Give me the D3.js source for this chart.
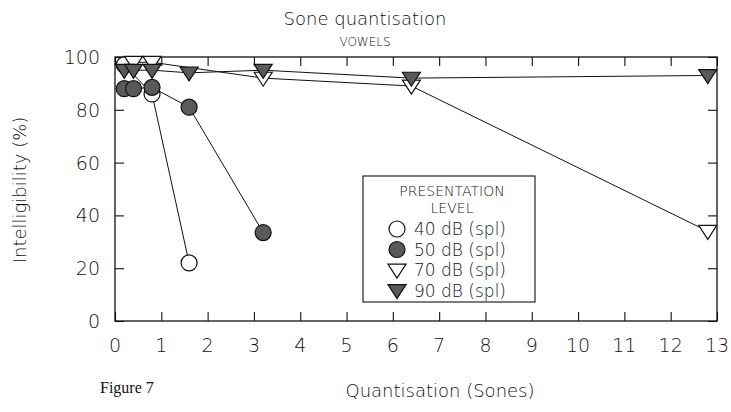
<!DOCTYPE html>
<html>
<head>
    <title>Sone quantisation</title>
    <script src="https://d3js.org/d3.v7.min.js"></script>
    <style>
        body { margin: 0; background: #fff; }
        text { font-family: "DejaVu Sans", sans-serif; font-weight: 200; fill: #111; }
    </style>
</head>
<body>
    <svg id="chart"></svg>
    <script>
        // Chart data
        const xTicks = [0, 1, 2, 3, 4, 5, 6, 7, 8, 9, 10, 11, 12, 13];
        const yTicks = [0, 20, 40, 60, 80, 100];

        const x40 = [0.2, 0.8, 1.6];
        const y40 = [97, 86, 22];
        const x50 = [0.2, 0.4, 0.8, 1.6, 3.2];
        const y50 = [88, 88, 88.5, 81, 33.5];
        const x70 = [0.4, 0.8, 3.2, 6.4, 12.8];
        const y70 = [98, 98, 92, 89, 34];
        const x90 = [0.2, 0.4, 0.8, 1.6, 3.2, 6.4, 12.8];
        const y90 = [95, 95, 95, 94, 95, 92, 93];

        const legendTitle = ["PRESENTATION", "LEVEL"];
        const legendLabels = ["40 dB (spl)", "50 dB (spl)", "70 dB (spl)", "90 dB (spl)"];

        let width = 731, height = 412;
        const margin = {left: 115, right: 14, top: 57, bottom: 91};

        const svg = d3.select("#chart")
            .attr("width", width)
            .attr("height", height);

        const x = d3.scaleLinear().domain([0, 13]).range([margin.left, width - margin.right]);
        const y = d3.scaleLinear().domain([0, 100]).range([height - margin.bottom, margin.top]);

        const gray = "#5a5a5a";
        const series = [
            {xs: x40, ys: y40, shape: "circle", fill: "#fff"},
            {xs: x70, ys: y70, shape: "tri", fill: "#fff"},
            {xs: x90, ys: y90, shape: "tri", fill: gray},
            {xs: x50, ys: y50, shape: "circle", fill: gray}
        ];

        // frame
        svg.append("rect")
            .attr("x", x(0)).attr("y", y(100))
            .attr("width", x(13) - x(0)).attr("height", y(0) - y(100))
            .attr("fill", "none").attr("stroke", "#111").attr("stroke-width", 1.3);

        // inward ticks on all four sides
        const tl = 9;
        const axisB = d3.axisBottom(x).tickValues(xTicks).tickSize(-tl).tickFormat("");
        const axisT = d3.axisTop(x).tickValues(xTicks).tickSize(-tl).tickFormat("");
        const axisL = d3.axisLeft(y).tickValues(yTicks).tickSize(-tl).tickFormat("");
        const axisR = d3.axisRight(y).tickValues(yTicks).tickSize(-tl).tickFormat("");
        [[axisB, `translate(0,${y(0)})`], [axisT, `translate(0,${y(100)})`],
         [axisL, `translate(${x(0)},0)`], [axisR, `translate(${x(13)},0)`]].forEach(([a, t]) => {
            const g = svg.append("g").attr("transform", t).call(a);
            g.select(".domain").remove();
            g.selectAll("line").attr("stroke", "#111").attr("stroke-width", 1.1);
        });

        // tick labels
        svg.append("g").selectAll("text").data(xTicks).join("text")
            .attr("x", d => x(d)).attr("y", y(0) + 31)
            .attr("text-anchor", "middle")
            .style("font-size", "19px")
            .text(d => d);
        svg.append("g").selectAll("text").data(yTicks).join("text")
            .attr("x", x(0) - 15).attr("y", d => y(d) + 7)
            .attr("text-anchor", "end")
            .style("font-size", "19px")
            .text(d => d);

        // titles
        svg.append("text").attr("x", 365).attr("y", 25).attr("text-anchor", "middle")
            .style("font-size", "18px").text("Sone quantisation");
        svg.append("text").attr("x", 365).attr("y", 46).attr("text-anchor", "middle")
            .style("font-size", "12px").text("VOWELS");
        svg.append("text").attr("x", 440).attr("y", 397).attr("text-anchor", "middle")
            .style("font-size", "18px").text("Quantisation (Sones)");
        svg.append("text").attr("transform", "translate(26,190) rotate(-90)")
            .attr("text-anchor", "middle")
            .style("font-size", "18px").text("Intelligibility (%)");
        svg.append("text").attr("x", 100).attr("y", 393)
            .style("font-family", "'Liberation Serif', serif").style("font-weight", "400")
            .style("font-size", "16px").text("Figure 7");

        // symbols
        function drawSymbol(g, shape, fill, cx, cy) {
            if (shape === "circle") {
                g.append("circle").attr("cx", cx).attr("cy", cy).attr("r", 8)
                    .attr("fill", fill).attr("stroke", "#111").attr("stroke-width", 1.2);
            } else {
                const s = 9;
                g.append("path")
                    .attr("d", `M${cx - s},${cy - s * 0.65}L${cx + s},${cy - s * 0.65}L${cx},${cy + s * 0.9}Z`)
                    .attr("fill", fill).attr("stroke", "#111").attr("stroke-width", 1.2);
            }
        }

        const line = d3.line().x(d => x(d[0])).y(d => y(d[1]));
        const lines = svg.append("g");
        series.forEach(s => {
            const pts = s.xs.map((v, i) => [v, s.ys[i]]);
            lines.append("path").attr("d", line(pts))
                .attr("fill", "none").attr("stroke", "#111").attr("stroke-width", 1);
        });
        const marks = svg.append("g");
        series.forEach(s => {
            s.xs.forEach((v, i) => drawSymbol(marks, s.shape, s.fill, x(v), y(s.ys[i])));
        });

        // legend
        const lg = svg.append("g");
        lg.append("rect").attr("x", 363).attr("y", 176).attr("width", 172).attr("height", 126)
            .attr("fill", "#fff").attr("stroke", "#111").attr("stroke-width", 1.1);
        legendTitle.forEach((t, i) => {
            lg.append("text").attr("x", 452).attr("y", 196 + i * 17).attr("text-anchor", "middle")
                .style("font-size", "14px").text(t);
        });
        const legendOrder = [
            {shape: "circle", fill: "#fff"}, {shape: "circle", fill: gray},
            {shape: "tri", fill: "#fff"}, {shape: "tri", fill: gray}
        ];
        legendLabels.forEach((t, i) => {
            const cy = 229 + i * 20.5;
            drawSymbol(lg, legendOrder[i].shape, legendOrder[i].fill, 397, cy);
            lg.append("text").attr("x", 414).attr("y", cy + 6)
                .style("font-size", "17px").text(t);
        });
    </script>
</body>
</html>
